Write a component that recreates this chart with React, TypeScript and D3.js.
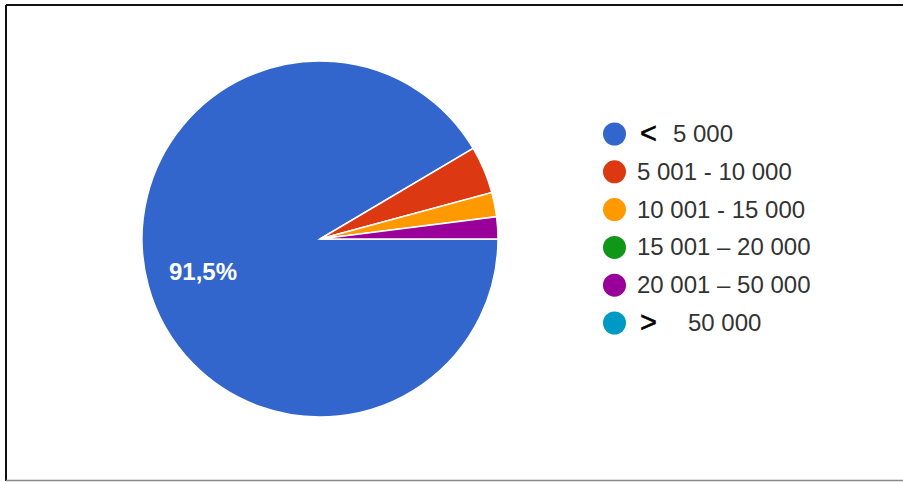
import React from "react";
import * as d3 from "d3";

const categories = ["< 5 000", "5 001 - 10 000", "10 001 - 15 000", "15 001 – 20 000", "20 001 – 50 000", "> 50 000"];
const values = [91.5, 4.3, 2.2, 0, 2.0, 0];
const colors = ["#3366cc", "#dc3912", "#ff9900", "#109618", "#990099", "#0099c6"];
const sliceLabels = ["91,5%", "", "", "", "", ""];

const W = 903;
const H = 482;
const cx = 320;
const cy = 239;
const R = 178;

export default function App() {
  const pie = d3
    .pie<number>()
    .sort(null)
    .startAngle(Math.PI / 2)
    .endAngle(Math.PI / 2 + 2 * Math.PI)
    .value((d) => d);
  const arcs = pie(values);
  const arc = d3.arc<d3.PieArcDatum<number>>().innerRadius(0).outerRadius(R);

  const legendY = d3.scaleLinear().domain([0, 1]).range([142, 179.8]);

  return (
    <svg
      width={W}
      height={H}
      style={{ position: "absolute", left: 0, top: 0, background: "#fff" }}
      fontFamily="Arial, 'Liberation Sans', sans-serif"
    >
      <rect x={0} y={0} width={W} height={H} fill="#fff" />
      <g transform={`translate(${cx},${cy})`}>
        {arcs.map((a, i) =>
          a.value > 0 ? (
            <path key={i} d={arc(a) || ""} fill={colors[i]} stroke="#fff" strokeWidth={1.5} />
          ) : null
        )}
      </g>
      {arcs.map((a, i) =>
        sliceLabels[i] ? (
          <text
            key={i}
            x={203}
            y={280}
            textAnchor="middle"
            fill="#fff"
            fontSize={24}
            fontWeight="bold"
          >
            {sliceLabels[i]}
          </text>
        ) : null
      )}
      {categories.map((c, i) => {
        const y = legendY(i);
        const m = c.match(/^([<>])\s*(.*)$/);
        return (
          <g key={c}>
            <circle cx={614.5} cy={y - 8} r={11.5} fill={colors[i]} />
            {m ? (
              <>
                <text x={640} y={y + 1} fontSize={29} fill="#000" stroke="#000" strokeWidth={0.5}>
                  {m[1]}
                </text>
                <text x={m[1] === "<" ? 673 : 688} y={y} fontSize={24} fill="#333">
                  {m[2]}
                </text>
              </>
            ) : (
              <text x={637} y={y} fontSize={24} fill="#333">
                {c}
              </text>
            )}
          </g>
        );
      })}
      <line x1={6} y1={5} x2={W} y2={5} stroke="#111" strokeWidth={2} />
      <line x1={6} y1={5} x2={6} y2={481} stroke="#111" strokeWidth={2} />
      <line x1={6} y1={480.5} x2={W} y2={480.5} stroke="#888" strokeWidth={1.5} />
    </svg>
  );
}
